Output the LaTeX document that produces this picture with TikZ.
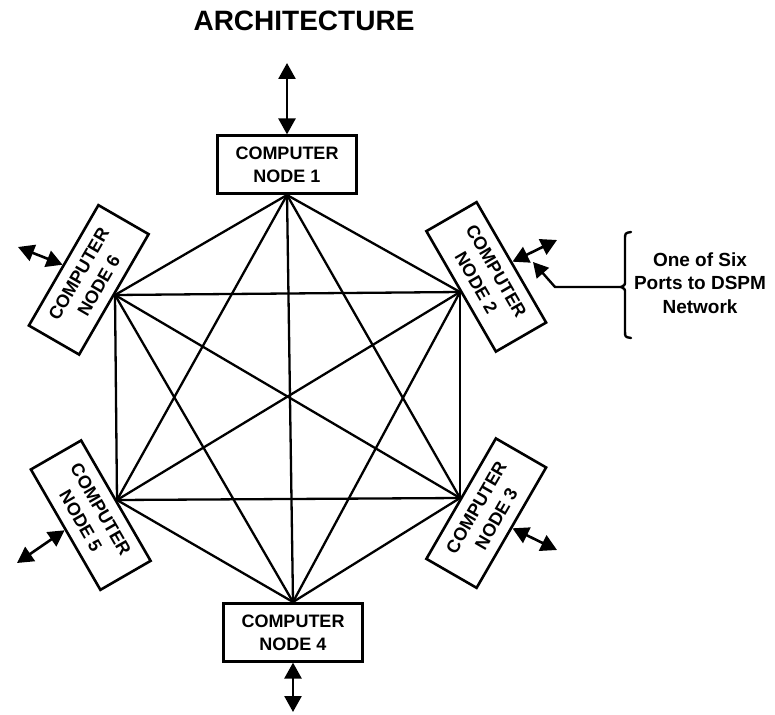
\documentclass[tikz,border=0pt]{standalone}
\usepackage{fontspec}
\setmainfont{Liberation Sans}
\usetikzlibrary{arrows.meta}
\begin{document}
\begin{tikzpicture}[x=1pt,y=-1pt,
  cnode/.style={draw, line width=2.6pt, minimum width=139pt, minimum height=58pt,
    align=center, inner sep=0pt, font=\fontsize{18}{23}\selectfont\bfseries},
  link/.style={line width=2.3pt, line cap=round},
  port/.style={line width=2.6pt,
    {Triangle[length=16pt,width=17pt]}-{Triangle[length=16pt,width=17pt]}},
  lead/.style={line width=2.4pt, -{Triangle[length=15pt,width=16pt]}},
  ]
\useasboundingbox (0,0) rectangle (775,714);
\node[font=\fontsize{28}{30}\selectfont\bfseries] (title) at (304,21) {ARCHITECTURE};

% hexagon vertices
\coordinate (v1) at (287,195);
\coordinate (v2) at (460,292);
\coordinate (v3) at (460,498);
\coordinate (v4) at (293,602);
\coordinate (v5) at (117,500);
\coordinate (v6) at (115,295);

\node[cnode, anchor=south] (n1) at (v1) {COMPUTER\\NODE 1};
\node[cnode, anchor=south, rotate=-60] (n2) at (v2) {COMPUTER\\NODE 2};
\node[cnode, anchor=north, rotate=60] (n3) at (v3) {COMPUTER\\NODE 3};
\node[cnode, anchor=north] (n4) at (v4) {COMPUTER\\NODE 4};
\node[cnode, anchor=north, rotate=-60] (n5) at (v5) {COMPUTER\\NODE 5};
\node[cnode, anchor=south, rotate=60] (n6) at (v6) {COMPUTER\\NODE 6};

% full interconnect (every pair of nodes)
\foreach \a/\b in {n1.south/n2.south, n1.south/n3.north, n1.south/n4.north,
                   n1.south/n5.north, n1.south/n6.south,
                   n2.south/n3.north, n2.south/n4.north, n2.south/n5.north,
                   n2.south/n6.south,
                   n3.north/n4.north, n3.north/n5.north, n3.north/n6.south,
                   n4.north/n5.north, n4.north/n6.south,
                   n5.north/n6.south}{
  \draw[link] (\a) -- (\b);
}

% ports
\coordinate (p1) at (287,63);
\coordinate (p2) at (557,240);
\coordinate (p3) at (557,550);
\coordinate (p4) at (293,712);
\coordinate (p5) at (17,563);
\coordinate (p6) at (18,247);
\draw[port] (n1.north) -- (p1);
\draw[port] (n2.north) -- (p2);
\draw[port] (n3.south) -- (p3);
\draw[port] (n4.south) -- (p4);
\draw[port] (n5.south) -- (p5);
\draw[port] (n6.north) -- (p6);

% label with brace
\node[font=\fontsize{19}{23.5}\selectfont\bfseries, align=center] (lbl) at (700,283)
  {One of Six\\Ports to DSPM\\Network};
\coordinate (btop) at (631,232);
\coordinate (bbot) at (631,338);
\coordinate (btip) at (621,287);
\coordinate (bend) at (555,287);
\coordinate (ltip) at (533,262);
\draw[line width=2.4pt, line cap=round, line join=round]
  (btop) .. controls (625,233) .. (625,240) -- (625,281)
  .. controls (625,285) .. (btip) .. controls (625,289) .. (625,293)
  -- (625,331) .. controls (625,337) .. (bbot);
\draw[lead] (btip) -- (bend) -- (ltip);
\end{tikzpicture}
\end{document}
